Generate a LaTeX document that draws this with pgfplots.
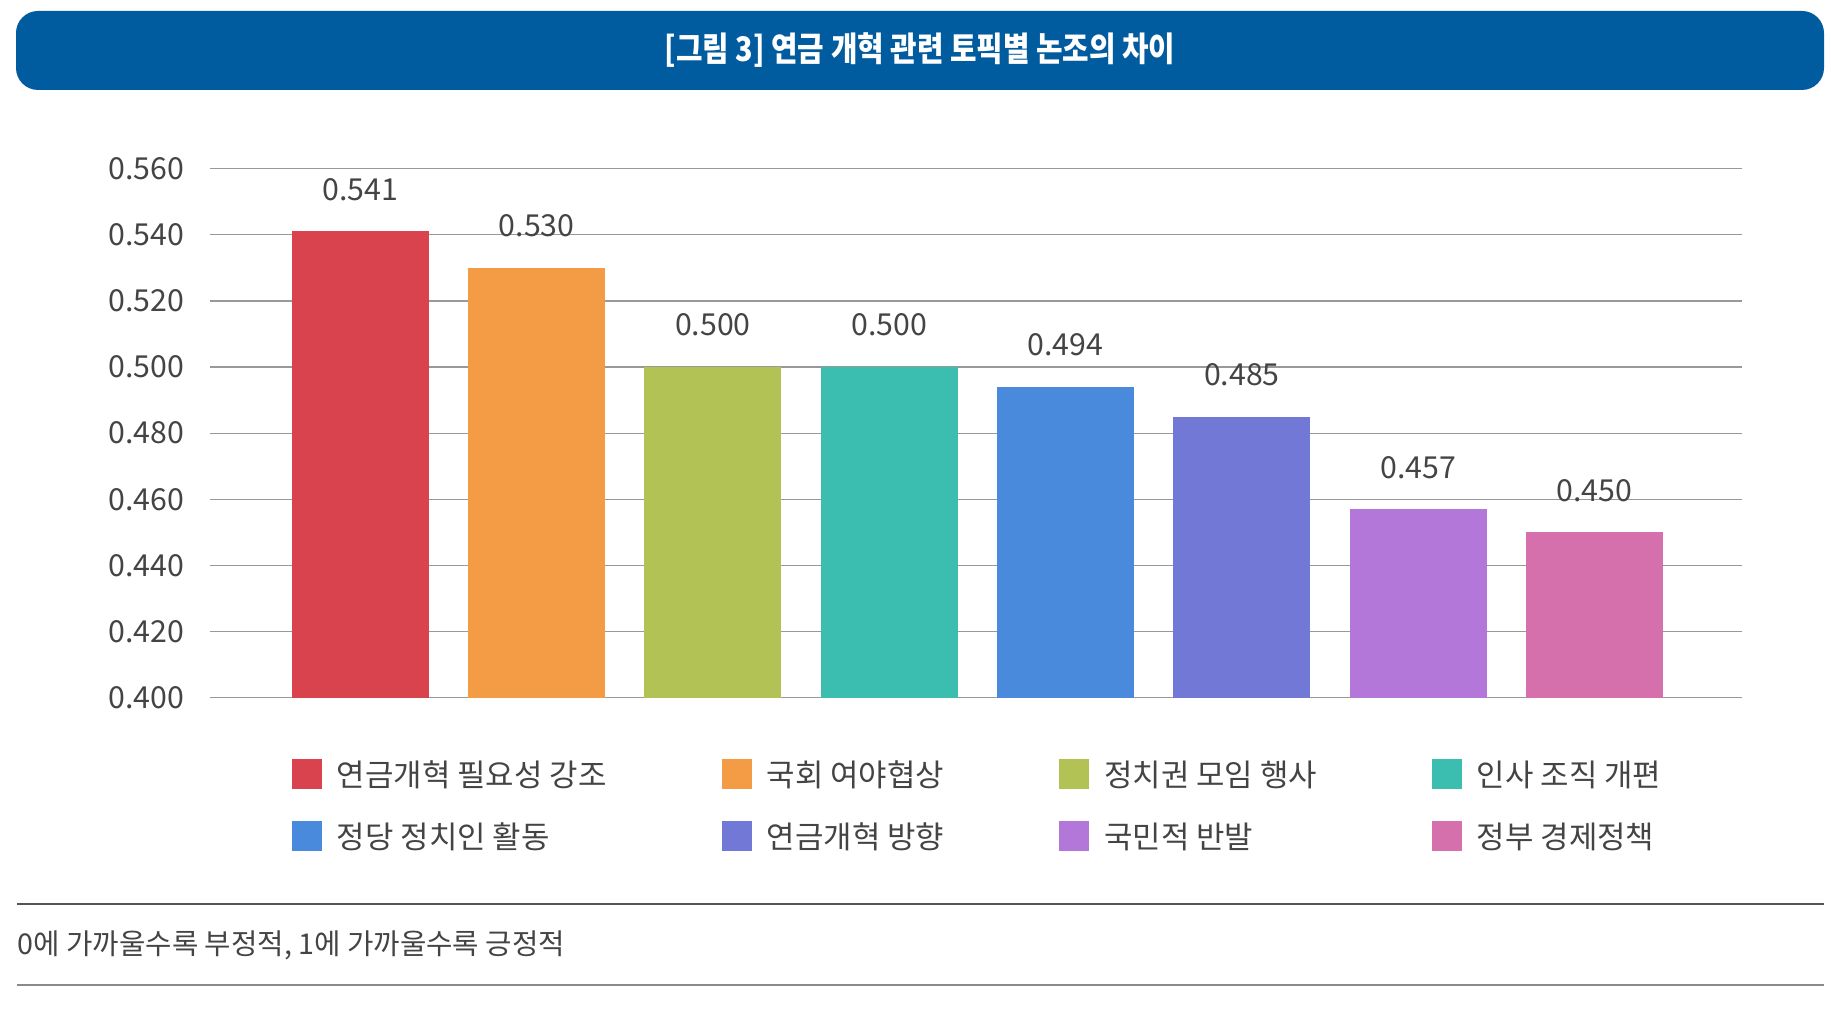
\documentclass[border=0pt]{standalone}
\usepackage{fontspec}
\setmainfont{Noto Sans CJK KR}
\newfontfamily\titlefont[FakeStretch=0.85]{Noto Sans CJK KR}
\usepackage{pgfplots}
\pgfplotsset{compat=1.18}
\definecolor{banner}{HTML}{005C9E}
\definecolor{cA}{HTML}{D9434E}
\definecolor{cB}{HTML}{F39B45}
\definecolor{cC}{HTML}{B2C255}
\definecolor{cD}{HTML}{3BBDB0}
\definecolor{cE}{HTML}{4A8ADC}
\definecolor{cF}{HTML}{7278D6}
\definecolor{cG}{HTML}{B377D9}
\definecolor{cH}{HTML}{D670AC}
\definecolor{txt}{HTML}{444444}
\definecolor{gridc}{HTML}{999999}
\pgfplotsset{sq/.style={legend image code/.code={\fill[##1] (0bp,-3.2bp) rectangle (7.5bp,4.3bp);}},
  barS/.style={fill=#1, draw=none, bar shift=0pt, sq}}
\begin{document}
\begin{tikzpicture}[x=0.25bp,y=0.25bp]
\path (0,0) rectangle (1831,1009);
\coordinate (axSW) at (210,311.3);
\fill[banner, rounded corners=5.5bp] (16,919) rectangle (1824,998);
\node[text=white, font=\titlefont\bfseries\fontsize{8.5}{10}\selectfont, inner sep=0pt] at (920,958.5) {[그림 3] 연금 개혁 관련 토픽별 논조의 차이};
\begin{axis}[at={(axSW)}, anchor=south west, scale only axis,
  width=383bp, height=132.25bp,
  xmin=-0.8525, xmax=7.8366, ymin=0.4, ymax=0.56,
  ytick={0.4,0.42,0.44,0.46,0.48,0.5,0.52,0.54,0.56},
  xtick=\empty, major tick length=0pt,
  axis line style={draw=none},
  ymajorgrids, grid style={draw=gridc, line width=0.33bp},
  ybar, bar width=34.25bp,
  yticklabel style={anchor=east, inner sep=0pt, xshift=-6.3bp, text=txt, font=\fontsize{7.6}{9}\selectfont,
    /pgf/number format/.cd, fixed, fixed zerofill, precision=3, assume math mode=true},
  nodes near coords,
  nodes near coords style={anchor=south, inner sep=0pt, yshift=7.5bp, text=txt, font=\fontsize{7.6}{9}\selectfont,
    /pgf/number format/.cd, fixed, fixed zerofill, precision=3, assume math mode=true},
  legend columns=4,
  legend cell align=left,
  legend style={at={(0.0535,-0.1164)}, anchor=north west, draw=none, fill=none, inner sep=0pt, outer sep=0pt,
    font=\fontsize{7.75}{9}\selectfont, text=txt, nodes={inner sep=0pt},
    /tikz/every odd column/.append style={column sep=3.75bp},
    /tikz/every even column/.append style={column sep=0pt},
    row sep=7.2bp},
]
\addplot[barS=cA] coordinates {(0,0.541)};
\addplot[barS=cB] coordinates {(1,0.530)};
\addplot[barS=cC] coordinates {(2,0.500)};
\addplot[barS=cD] coordinates {(3,0.500)};
\addplot[barS=cE] coordinates {(4,0.494)};
\addplot[barS=cF] coordinates {(5,0.485)};
\addplot[barS=cG] coordinates {(6,0.457)};
\addplot[barS=cH] coordinates {(7,0.450)};
\addlegendentry{\makebox[96.2bp][l]{연금개혁 필요성 강조}}
\addlegendentry{\makebox[73.15bp][l]{국회 여야협상}}
\addlegendentry{\makebox[81.9bp][l]{정치권 모임 행사}}
\addlegendentry{인사 조직 개편}
\addlegendentry{\makebox[96.2bp][l]{정당 정치인 활동}}
\addlegendentry{\makebox[73.15bp][l]{연금개혁 방향}}
\addlegendentry{\makebox[81.9bp][l]{국민적 반발}}
\addlegendentry{정부 경제정책}
\end{axis}
\draw[draw=black!67, line width=0.33bp] (17,105) -- (1824,105);
\draw[draw=gridc!90!black, line width=0.6bp] (17,24) -- (1824,24);
\node[anchor=west, inner sep=0pt, text=txt, font=\fontsize{7.2}{9}\selectfont] at (17,64) {0에 가까울수록 부정적, 1에 가까울수록 긍정적};
\end{tikzpicture}
\end{document}
